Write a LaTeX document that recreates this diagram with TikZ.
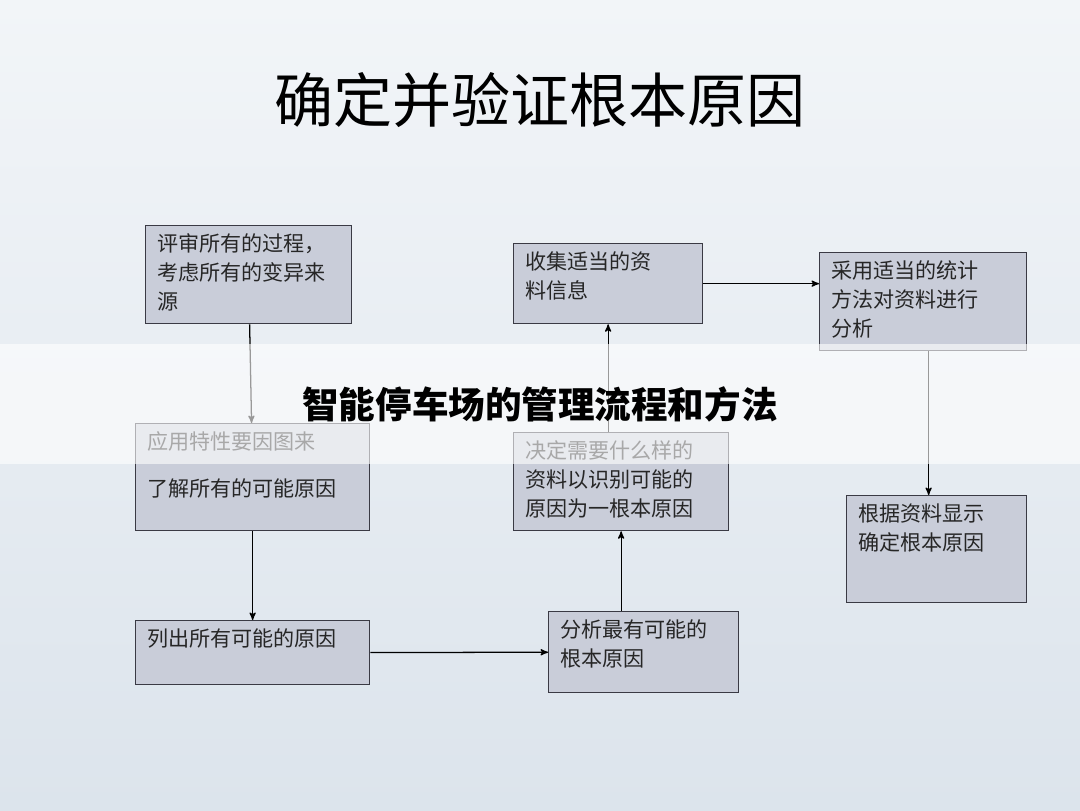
\documentclass[tikz,border=0pt]{standalone}
\usepackage{fontspec}
\newfontfamily\cjk{Noto Sans CJK SC}
\usetikzlibrary{positioning}
\usetikzlibrary{arrows}
\definecolor{boxfill}{HTML}{C9CDD9}
\definecolor{boxline}{HTML}{3A3A44}
\definecolor{bgtop}{HTML}{F2F5F8}
\definecolor{bgbot}{HTML}{DCE4EC}
\tikzset{
  stepbox/.style = {draw=boxline, fill=boxfill, line width=0.9pt, inner sep=0pt, anchor=north west},
  boxtext/.style = {font=\cjk\fontsize{15}{20.5}\selectfont, align=left, inner sep=0pt, text=black!85},
  flow/.style = {->, >=stealth', line width=0.9pt, black},
}
\newcommand{\stepnode}[6]{% name, x, y, w, h, text
  \node[stepbox, minimum width=#4cm, minimum height=#5cm] (#1) at (#2,#3) {};
  \node[boxtext, anchor=north west] (#1t) at ([xshift=0.3cm,yshift=-0.22cm]#1.north west) {#6};
}
\begin{document}
\begin{tikzpicture}
\useasboundingbox (0,0) rectangle (27,-20.25);
\shade[top color=bgtop, bottom color=bgbot] (0,0) rectangle (27,-20.25);
\node[font=\cjk\fontsize{42}{48}\selectfont] (title) at (13.5,-2.5) {确定并验证根本原因};
% steps
\stepnode{review}{3.625}{-5.625}{5.15}{2.45}{评审所有的过程，\\考虑所有的变异来\\源}
\stepnode{fishbone}{3.375}{-10.575}{5.85}{2.675}{应用特性要因图来\\[0.45cm]了解所有的可能原因}
\stepnode{causes}{3.375}{-15.5}{5.85}{1.6}{列出所有可能的原因}
\stepnode{likely}{13.7}{-15.275}{4.75}{2.025}{分析最有可能的\\根本原因}
\stepnode{decide}{12.825}{-10.8}{5.375}{2.45}{决定需要什么样的\\资料以识别可能的\\原因为一根本原因}
\stepnode{collect}{12.825}{-6.075}{4.725}{2.0}{收集适当的资\\料信息}
\stepnode{stats}{20.475}{-6.3}{5.175}{2.45}{采用适当的统计\\方法对资料进行\\分析}
\stepnode{root}{21.15}{-12.375}{4.5}{2.675}{根据资料显示\\确定根本原因}
% connectors
\draw[flow] (review) -- (fishbone);
\draw[flow] (fishbone) -- (causes);
\draw[flow] (causes) -- (likely);
\draw[flow] (decide.south |- likely.north) -- (decide.south);
\draw[flow] (collect.south |- decide.north) -- (collect.south);
\draw[flow] (collect.east) -- (collect.east -| stats.west);
\draw[flow] (stats.south -| root.north) ++(-0.2,0) coordinate (gs) -- (gs |- root.north);
% band and watermark
\fill[white, opacity=0.6] (0,-8.6) rectangle (27,-11.6);
\node[font=\cjk\bfseries\fontsize{26}{30}\selectfont, text=black] (mark) at (13.5,-10.1) {智能停车场的管理流程和方法};
\end{tikzpicture}
\end{document}
